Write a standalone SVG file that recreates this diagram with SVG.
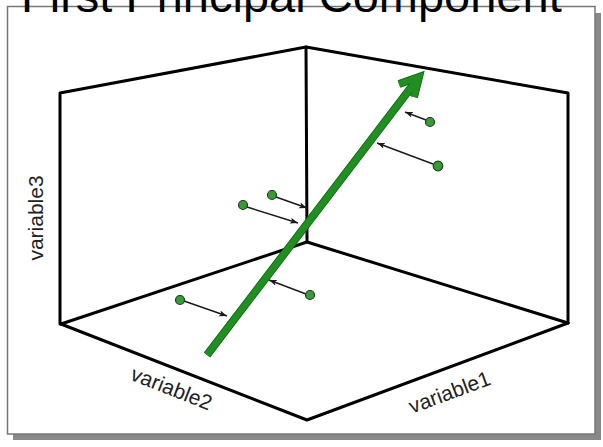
<svg xmlns="http://www.w3.org/2000/svg" width="603" height="447" viewBox="0 0 603 447">
  <defs>
    <style>
      .axis { fill: none; stroke: #000; stroke-width: 3; stroke-linecap: round; stroke-linejoin: round; }
      .label { font-family: "Liberation Sans", Arial, sans-serif; font-size: 21px; fill: #222; }
      .title { font-family: "Liberation Sans", Arial, sans-serif; font-size: 47px; fill: #000; }
      .pt { fill: #3a9a3a; stroke: #1c3f1c; stroke-width: 1.2; }
      .proj { stroke: #1a1a1a; stroke-width: 1.4; fill: none; marker-end: url(#ah); }
      .pc { fill: none; stroke: #1f8f22; stroke-width: 6.5; stroke-linecap: butt; stroke-linejoin: miter; }
      .pcEdge { fill: none; stroke: #106010; stroke-width: 8; stroke-linecap: butt; stroke-linejoin: miter; }
    </style>
    <marker id="ah" markerUnits="userSpaceOnUse" markerWidth="10" markerHeight="8" refX="8" refY="3" orient="auto">
      <path d="M0,0 L8,3 L0,6 L2,3 z" fill="#1a1a1a"/>
    </marker>
  </defs>

  <!-- frame with shadow -->
  <g id="frame">
    <rect x="13" y="13" width="588" height="427" fill="#888"/>
    <rect x="7.5" y="6.5" width="587.5" height="427.5" fill="#fff" stroke="#777" stroke-width="1.5"/>
  </g>

  <g id="title">
    <text class="title" x="21" y="12">First Principal Component</text>
  </g>

  <!-- 3D axes box -->
  <g id="box">
    <polyline class="axis" points="60,324 60,93 306,47 568,93 568,323"/>
    <line class="axis" x1="306" y1="47" x2="307" y2="242"/>
    <polyline class="axis" points="61,324 307,242 568,323"/>
    <polyline class="axis" points="61,324 307,420 568,323"/>
  </g>

  <g id="variable3"><text class="label" text-anchor="middle" transform="translate(43,218) rotate(-90)">variable3</text></g>
  <g id="variable2"><text class="label" text-anchor="middle" transform="translate(169,395) rotate(21.4)">variable2</text></g>
  <g id="variable1"><text class="label" text-anchor="middle" transform="translate(452,399) rotate(-20.4)">variable1</text></g>

  <!-- principal component arrow -->
  <g id="pc-arrow">
    <line class="pcEdge" x1="207" y1="355" x2="416" y2="81"/>
    <polyline class="pcEdge" points="399,84 419,77 414,97"/>
    <line class="pc" x1="207" y1="355" x2="416" y2="81"/>
    <polyline class="pc" points="399,84 419,77 414,97"/>
  </g>

  <!-- projection connectors -->
  <g id="connectors">
    <line class="proj" x1="426" y1="120" x2="405" y2="112"/>
    <line class="proj" x1="433" y1="164" x2="377" y2="143"/>
    <line class="proj" x1="276" y1="197" x2="307" y2="208"/>
    <line class="proj" x1="247" y1="207" x2="298" y2="223"/>
    <line class="proj" x1="184" y1="301" x2="227" y2="316"/>
    <line class="proj" x1="306" y1="294" x2="269" y2="280"/>
  </g>

  <!-- data points -->
  <g id="p1"><circle class="pt" cx="430" cy="122" r="4.5"/></g>
  <g id="p2"><circle class="pt" cx="438" cy="166" r="4.8"/></g>
  <g id="p3"><circle class="pt" cx="272" cy="195" r="4.5"/></g>
  <g id="p4"><circle class="pt" cx="243" cy="205" r="4.5"/></g>
  <g id="p5"><circle class="pt" cx="180" cy="300" r="4.5"/></g>
  <g id="p6"><circle class="pt" cx="310" cy="295" r="4.5"/></g>
</svg>
